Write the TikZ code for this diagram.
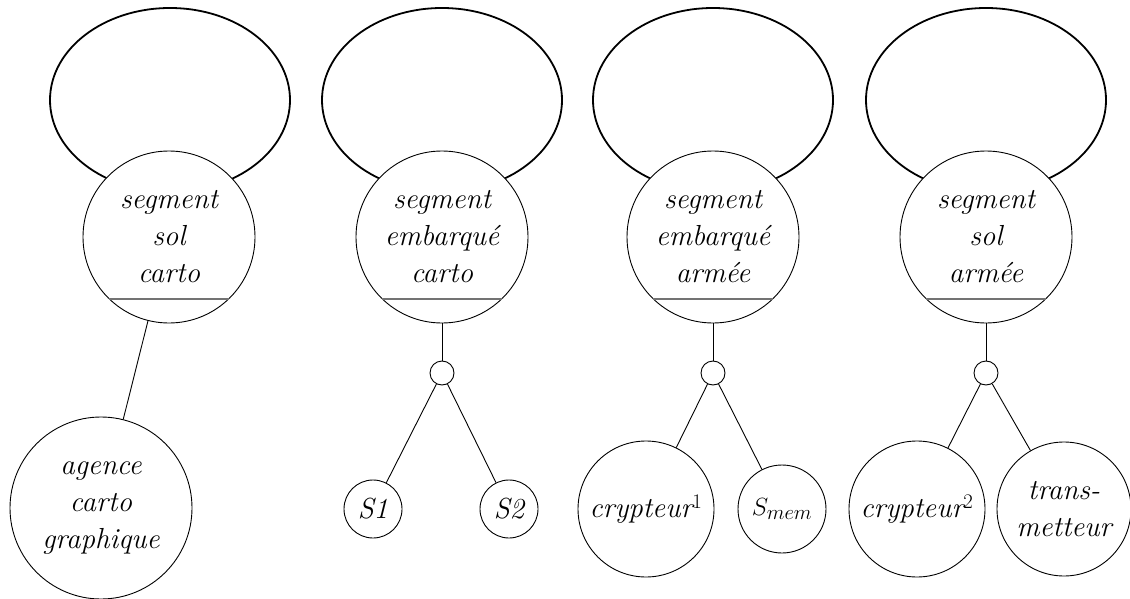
\documentclass[tikz,border=0pt]{standalone}
\begin{document}
\begin{tikzpicture}[x=1pt,y=-1pt,
  txt/.style={font=\fontsize{29}{37}\selectfont\itshape,align=center,inner sep=0pt},
  bigc/.style={circle,draw,line width=0.9pt,fill=white,minimum size=172pt,txt},
  leaf/.style={circle,draw,line width=0.9pt,fill=white,minimum size=#1,txt},
  junc/.style={circle,draw,line width=0.9pt,fill=white,minimum size=24pt,inner sep=0pt},
  loopell/.style={line width=1.8pt},
  bar/.style={line width=1.6pt,draw=black!55},
  conn/.style={line width=0.9pt}]
\useasboundingbox (0,0) rectangle (1130,599);

% loops
\draw[loopell] (170,100) ellipse [x radius=120pt, y radius=92pt];
\draw[loopell] (442,100) ellipse [x radius=120pt, y radius=92pt];
\draw[loopell] (713,100) ellipse [x radius=120pt, y radius=92pt];
\draw[loopell] (986,100) ellipse [x radius=120pt, y radius=92pt];

% top circles
\node[bigc] (a) at (169,237) {segment\\sol\\carto};
\node[bigc] (b) at (442,237) {segment\\embarqu\'e\\carto};
\node[bigc] (c) at (713,237) {segment\\embarqu\'e\\arm\'ee};
\node[bigc] (d) at (986,237) {segment\\sol\\arm\'ee};

% grey bars
\foreach \cx in {169,442,713,986}{
  \draw[bar] (\cx-59.6,299) -- (\cx+59.6,299);
}

% junctions
\node[junc] (jb) at (442,373) {};
\node[junc] (jc) at (713,373) {};
\node[junc] (jd) at (986,373) {};

% leaves
\node[leaf=182pt] (ag) at (101,508) {agence\\carto\\graphique};
\node[leaf=58pt] (s1) at (373,509) {S1};
\node[leaf=58pt] (s2) at (509,509) {S2};
\node[leaf=136pt] (cr1) at (646,509) {crypteur$^1$};
\node[leaf=88pt] (sm) at (782,509) {$S_{mem}$};
\node[leaf=136pt] (cr2) at (917,509) {crypteur$^2$};
\node[leaf=134pt] (tr) at (1064,509) {trans-\\metteur};

% connectors
\draw[conn] (a) -- (ag);
\draw[conn] (b) -- (jb);
\draw[conn] (jb) -- (s1);
\draw[conn] (jb) -- (s2);
\draw[conn] (c) -- (jc);
\draw[conn] (jc) -- (cr1);
\draw[conn] (jc) -- (sm);
\draw[conn] (d) -- (jd);
\draw[conn] (jd) -- (cr2);
\draw[conn] (jd) -- (tr);
\end{tikzpicture}
\end{document}
